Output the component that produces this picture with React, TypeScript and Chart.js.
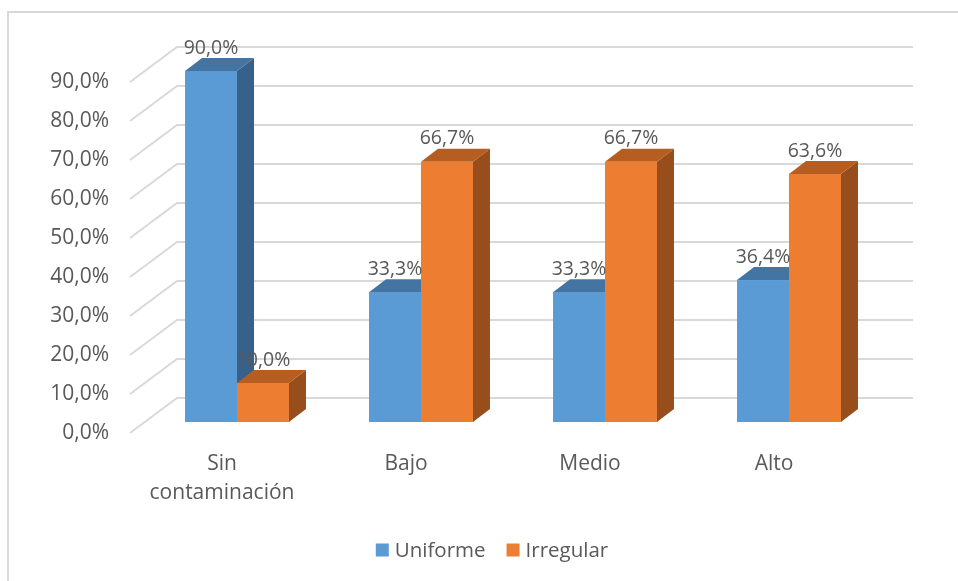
import { useEffect, useRef } from 'react';
import { Chart, registerables } from 'chart.js';

Chart.register(...registerables);

// Data
const categories: (string | string[])[] = [['Sin', 'contaminación'], 'Bajo', 'Medio', 'Alto'];
const seriesNames = ['Uniforme', 'Irregular'];
const uniforme = [90.0, 33.3, 33.3, 36.4];
const irregular = [10.0, 66.7, 66.7, 63.6];
const yTickValues = [0, 10, 20, 30, 40, 50, 60, 70, 80, 90];

// Face colours for each series: front, top, side
const frontColors = ['#5B9BD5', '#ED7D31'];
const topColors = ['#4474A1', '#B65E21'];
const sideColors = ['#37618A', '#984D1C'];

const TEXT = '#595959';
const GRID = '#d9d9d9';
const FONT = "'Open Sans', sans-serif";

// Oblique depth of the plot box (front plane -> back wall)
const WALL_DX = 47;
const WALL_DY = 35;
// Bar front face offset from the front plane, and bar depth
const BAR_FX = 15;
const BAR_FY = 11;
const BAR_DX = 17;
const BAR_DY = 13;

const fmt = (v: number) => v.toFixed(1).replace('.', ',') + '%';

const columns3d = {
  id: 'columns3d',
  beforeDraw(chart: any) {
    const { ctx } = chart;
    ctx.save();
    ctx.fillStyle = '#ffffff';
    ctx.fillRect(0, 0, chart.width, chart.height);
    ctx.strokeStyle = GRID;
    ctx.lineWidth = 2;
    ctx.strokeRect(8, 12, 1200, 1200);
    ctx.restore();
  },
  beforeDatasetsDraw(chart: any) {
    const { ctx, chartArea } = chart;
    const yScale = chart.scales.y;

    // Left wall diagonals and back wall gridlines
    ctx.save();
    ctx.strokeStyle = GRID;
    ctx.lineWidth = 2;
    ctx.lineJoin = 'miter';
    for (const v of yTickValues) {
      const py = yScale.getPixelForValue(v);
      ctx.beginPath();
      ctx.moveTo(chartArea.left, py);
      ctx.lineTo(chartArea.left + WALL_DX, py - WALL_DY);
      ctx.lineTo(chartArea.right + WALL_DX, py - WALL_DY);
      ctx.stroke();
    }
    ctx.restore();

    // Columns, drawn category by category, series left to right
    const labels: { x: number; y: number; text: string }[] = [];
    const nCat = chart.data.labels.length;
    for (let j = 0; j < nCat; j++) {
      chart.data.datasets.forEach((ds: any, i: number) => {
        const meta = chart.getDatasetMeta(i);
        const el = meta.data[j];
        if (!el) return;
        const p = el.getProps(['x', 'y', 'base', 'width'], true);
        const l = p.x - p.width / 2 + BAR_FX;
        const r = p.x + p.width / 2 + BAR_FX;
        const t = p.y - BAR_FY;
        const b = p.base - BAR_FY;

        ctx.save();
        // front face
        ctx.fillStyle = frontColors[i];
        ctx.fillRect(l, t, r - l, b - t);
        // right side face
        ctx.fillStyle = sideColors[i];
        ctx.beginPath();
        ctx.moveTo(r, t);
        ctx.lineTo(r + BAR_DX, t - BAR_DY);
        ctx.lineTo(r + BAR_DX, b - BAR_DY);
        ctx.lineTo(r, b);
        ctx.closePath();
        ctx.fill();
        // top face
        ctx.fillStyle = topColors[i];
        ctx.beginPath();
        ctx.moveTo(l, t);
        ctx.lineTo(l + BAR_DX, t - BAR_DY);
        ctx.lineTo(r + BAR_DX, t - BAR_DY);
        ctx.lineTo(r, t);
        ctx.closePath();
        ctx.fill();
        ctx.restore();

        labels.push({ x: (l + r) / 2, y: t - BAR_DY - 10, text: fmt(ds.data[j]) });
      });
    }

    // Value labels on top of everything
    ctx.save();
    ctx.fillStyle = TEXT;
    ctx.font = `19.5px ${FONT}`;
    ctx.textAlign = 'center';
    ctx.textBaseline = 'middle';
    for (const lb of labels) ctx.fillText(lb.text, lb.x, lb.y);
    ctx.restore();

    return false;
  },
  afterDraw(chart: any) {
    // Legend
    const { ctx } = chart;
    ctx.save();
    ctx.font = `20.5px ${FONT}`;
    ctx.textBaseline = 'middle';
    ctx.textAlign = 'left';
    const box = 13;
    const gap = 6;
    const itemGap = 21;
    const widths = seriesNames.map((n) => ctx.measureText(n).width);
    const total = widths.reduce((a, w) => a + box + gap + w, 0) + itemGap * (seriesNames.length - 1);
    let x = 492 - total / 2;
    const cy = 550;
    seriesNames.forEach((n, i) => {
      ctx.fillStyle = frontColors[i];
      ctx.fillRect(x, cy - box / 2, box, box);
      x += box + gap;
      ctx.fillStyle = TEXT;
      ctx.fillText(n, x, cy + 1);
      x += widths[i] + itemGap;
    });
    ctx.restore();
  },
};

export default function App() {
  const canvasRef = useRef<HTMLCanvasElement | null>(null);

  useEffect(() => {
    const canvas = canvasRef.current;
    if (!canvas) return;
    const chart = new Chart(canvas, {
      type: 'bar',
      data: {
        labels: categories as any,
        datasets: [
          { label: seriesNames[0], data: uniforme, backgroundColor: frontColors[0] },
          { label: seriesNames[1], data: irregular, backgroundColor: frontColors[1] },
        ],
      },
      options: {
        animation: false,
        responsive: false,
        maintainAspectRatio: false,
        devicePixelRatio: 1,
        layout: { padding: { left: 0, top: 82, right: 92, bottom: 0 } },
        datasets: { bar: { categoryPercentage: 0.565, barPercentage: 1.0 } },
        plugins: {
          legend: { display: false },
          tooltip: { enabled: false },
        },
        scales: {
          x: {
            offset: true,
            grid: { display: false, drawTicks: false },
            border: { display: false },
            ticks: {
              color: TEXT,
              font: { family: FONT, size: 21, lineHeight: 1.4 },
              padding: 16,
              maxRotation: 0,
              autoSkip: false,
            },
            afterFit: (s: any) => {
              s.height = 148;
            },
          },
          y: {
            min: 0,
            max: 90,
            grid: { display: false, drawTicks: false },
            border: { display: false },
            ticks: {
              stepSize: 10,
              color: TEXT,
              font: { family: FONT, size: 21 },
              padding: 21,
              callback: (v: any) => fmt(Number(v)),
            },
            afterFit: (s: any) => {
              s.width = 130;
            },
          },
        },
      },
      plugins: [columns3d],
    });
    return () => chart.destroy();
  }, []);

  return (
    <div
      style={{
        position: 'fixed',
        left: 0,
        top: 0,
        width: 958,
        height: 581,
        overflow: 'hidden',
        background: '#ffffff',
      }}
    >
      <canvas ref={canvasRef} width={958} height={581} style={{ display: 'block' }} />
    </div>
  );
}
